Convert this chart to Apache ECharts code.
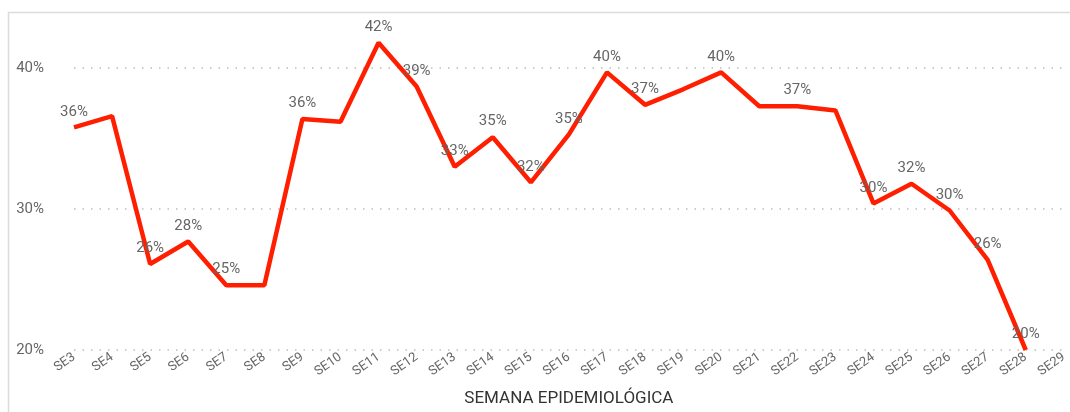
<!DOCTYPE html>
<html>
<head>
<meta charset="utf-8">
<script src="https://cdn.jsdelivr.net/npm/echarts@6/dist/echarts.min.js"></script>
<style>
  html, body { margin: 0; padding: 0; background: #fff; }
  #chart { width: 1070px; height: 412px; }
</style>
</head>
<body>
<div id="chart"></div>
<script>
  // semanas epidemiológicas
  var semanas = ['SE3', 'SE4', 'SE5', 'SE6', 'SE7', 'SE8', 'SE9', 'SE10', 'SE11', 'SE12', 'SE13', 'SE14', 'SE15',
    'SE16', 'SE17', 'SE18', 'SE19', 'SE20', 'SE21', 'SE22', 'SE23', 'SE24', 'SE25', 'SE26', 'SE27', 'SE28', 'SE29'];
  // porcentaje por semana (SE29 sin dato)
  var valores = [0.358, 0.366, 0.261, 0.277, 0.246, 0.246, 0.364, 0.362, 0.418, 0.387, 0.330, 0.351, 0.319,
    0.353, 0.397, 0.374, 0.385, 0.397, 0.373, 0.373, 0.370, 0.304, 0.318, 0.299, 0.264, 0.200, null];
  // semanas con etiqueta visible
  var conEtiqueta = [1, 0, 1, 1, 1, 0, 1, 0, 1, 1, 1, 1, 1, 1, 1, 1, 0, 1, 0, 1, 0, 1, 1, 1, 1, 1, 0];
  var yTicks = [0.2, 0.3, 0.4];

  var fuente = 'Roboto, "DejaVu Sans", sans-serif';
  var myChart = echarts.init(document.getElementById('chart'));

  myChart.setOption({
    animation: false,
    graphic: [{
      type: 'rect',
      shape: { x: 8.5, y: 12.5, width: 1080, height: 420 },
      style: { fill: 'none', stroke: '#dcdcdc', lineWidth: 1.5 },
      silent: true, z: -1
    }],
    grid: { left: 74, right: 0, top: 40, bottom: 60 },
    xAxis: {
      type: 'category',
      data: semanas,
      boundaryGap: false,
      axisLine: { show: false },
      axisTick: { show: false },
      axisLabel: { rotate: 35, color: '#666', fontSize: 13, fontFamily: fuente, margin: 6 },
      name: 'SEMANA EPIDEMIOLÓGICA',
      nameLocation: 'middle',
      nameGap: 40,
      nameTextStyle: { color: '#333', fontSize: 17, fontFamily: fuente }
    },
    yAxis: {
      type: 'value',
      min: 0.2,
      max: 0.42,
      interval: 0.1,
      axisLine: { show: false },
      axisTick: { show: false },
      axisLabel: {
        color: '#666', fontSize: 15, fontFamily: fuente, margin: 30, showMaxLabel: false,
        formatter: function (v) {
          return yTicks.some(function (t) { return Math.abs(t - v) < 1e-6; }) ? Math.round(v * 100) + '%' : '';
        }
      },
      splitLine: { showMaxLine: false, lineStyle: { color: '#bdbdbd', type: [1.5, 7], width: 1.5 } }
    },
    series: [{
      type: 'line',
      clip: false,
      data: valores.map(function (v, i) {
        return {
          value: v,
          label: {
            show: !!conEtiqueta[i],
            position: 'top',
            distance: 8,
            color: '#666',
            fontSize: 15,
            fontFamily: fuente,
            formatter: function (p) { return Math.round(p.value * 100) + '%'; }
          }
        };
      }),
      symbol: 'circle',
      symbolSize: 0,
      showSymbol: true,
      lineStyle: { color: '#ff1f00', width: 4.5 },
      itemStyle: { color: '#ff1f00' }
    }]
  });
</script>
</body>
</html>
